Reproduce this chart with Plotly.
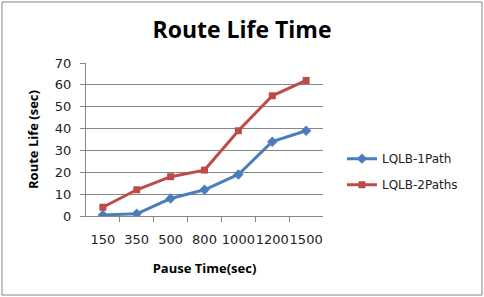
import plotly.graph_objects as go

categories = ["150", "350", "500", "800", "1000", "1200", "1500"]
path1 = [0.5, 1, 8, 12, 19, 34, 39]
path2 = [4, 12, 18, 21, 39, 55, 62]
series_names = ["LQLB-1Path", "LQLB-2Paths"]
y_ticks = [0, 10, 20, 30, 40, 50, 60, 70]

fig = go.Figure()
fig.add_trace(go.Scatter(x=categories, y=path1, name=series_names[0], mode="lines+markers",
                         legendgroup="a",
                         line=dict(color="#4A7EBB", width=3),
                         marker=dict(symbol="diamond", size=8, color="#4A7EBB")))
fig.add_trace(go.Scatter(x=categories, y=path2, name=series_names[1], mode="lines+markers",
                         legendgroup="b",
                         line=dict(color="#BE4B48", width=3),
                         marker=dict(symbol="square", size=7, color="#BE4B48")))

tickfont = dict(family="DejaVu Sans", size=13, color="#222")
fig.update_layout(
    width=484, height=297,
    margin=dict(l=86, r=161, t=63, b=81, autoexpand=False),
    paper_bgcolor="white", plot_bgcolor="white",
    title=dict(text="<b>Route Life Time</b>", x=0.5, xanchor="center", y=0.9, yanchor="middle",
               font=dict(family="Open Sans", size=23, color="black")),
    showlegend=True,
    legend=dict(x=1.08, xanchor="left", y=0.29, yanchor="middle",
                font=dict(family="DejaVu Sans", size=12, color="#222"),
                tracegroupgap=7, itemwidth=30, bgcolor="rgba(0,0,0,0)"),
    xaxis=dict(type="category", categoryorder="array", categoryarray=categories,
               tickfont=tickfont, tickangle=0, automargin=False,
               showgrid=False, showline=True, linecolor="#868686",
               ticks="outside", tickson="boundaries", ticklen=5, tickcolor="#868686",
               ticklabelstandoff=11,
               title=dict(text="<b>Pause Time(sec)</b>", standoff=18,
                          font=dict(family="Open Sans", size=13, color="black"))),
    yaxis=dict(range=[0, 70], tickvals=y_ticks, tickfont=tickfont, automargin=False,
               showgrid=True, gridcolor="#868686", gridwidth=1,
               showline=True, linecolor="#868686", ticks="outside", ticklen=5,
               tickcolor="#868686", zeroline=False, ticklabelstandoff=6,
               title=dict(text="<b>Route Life (sec)</b>", standoff=13,
                          font=dict(family="Open Sans", size=13, color="black"))),
    shapes=[dict(type="rect", xref="paper", yref="paper",
                 x0=-84/237, x1=1 + 159/237, y0=-79/153, y1=1 + 61/153,
                 line=dict(color="#868686", width=1), fillcolor="rgba(0,0,0,0)")],
)

fig.write_html("out.html", config={"displayModeBar": False},
               post_script="document.body.style.margin='0';")
